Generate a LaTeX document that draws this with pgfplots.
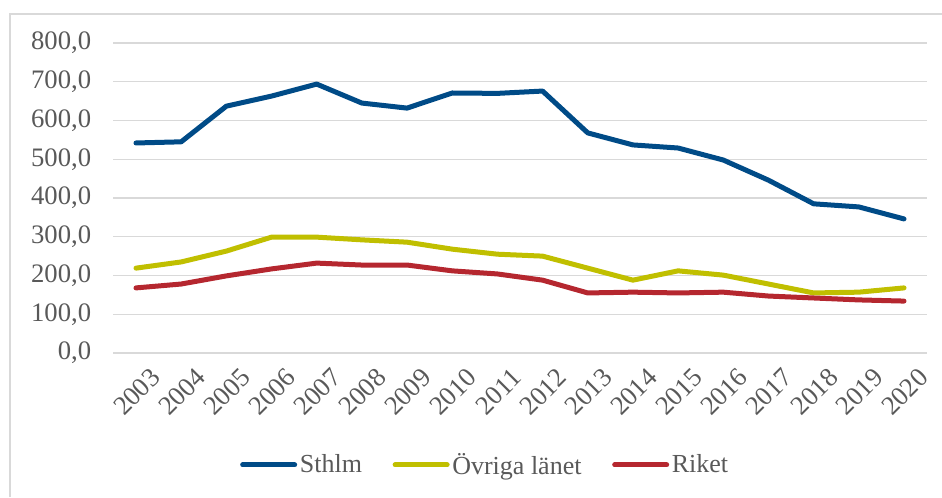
\documentclass[border=0pt]{standalone}
\usepackage{fontspec}
\setmainfont{Liberation Serif}
\usepackage{pgfplots}
\pgfplotsset{compat=1.18}
\definecolor{cblue}{RGB}{0,75,135}
\definecolor{cyel}{RGB}{192,191,0}
\definecolor{cred}{RGB}{181,39,47}
\definecolor{cgrid}{RGB}{217,217,217}
\definecolor{ctext}{RGB}{89,89,89}
\begin{document}
\begin{tikzpicture}
\path[use as bounding box] (0pt,0pt) rectangle (706.5pt,372.75pt);
\draw[cgrid, line width=1.2pt] (7.5pt,0pt) -- (7.5pt,362.25pt) -- (706.5pt,362.25pt);
\begin{axis}[
  at={(85.05pt,108pt)}, anchor=south west,
  scale only axis, width=609.9pt, height=232.5pt,
  xmin=-0.5, xmax=17.5, ymin=0, ymax=800,
  xtick={0,...,17},
  xticklabels={2003,2004,2005,2006,2007,2008,2009,2010,2011,2012,2013,2014,2015,2016,2017,2018,2019,2020},
  ytick={0,100,...,800},
  axis line style={draw=none},
  major tick length=0pt,
  ymajorgrids, xmajorgrids=false,
  grid style={cgrid, line width=1.1pt},
  /pgf/number format/assume math mode=true,
  yticklabel={\pgfmathprintnumber[fixed,fixed zerofill,precision=1,use comma,1000 sep={}]{\tick}},
  tick label style={font=\fontsize{20}{23}\selectfont, text=ctext},
  yticklabel style={anchor=east, inner sep=0pt, xshift=-16.5pt},
  xticklabel style={rotate=45, anchor=east, inner sep=0pt, xshift=0pt, yshift=-21pt},
  legend columns=3,
  legend style={draw=none, fill=none, at={(0.4576,-0.361)}, anchor=center,
    font=\fontsize{19.5}{23}\selectfont, text=ctext,
    /tikz/every even column/.append style={column sep=21pt}},
  legend cell align=left,
  legend image code/.code={\draw[#1, line width=3.75pt, line cap=round] (0pt,0pt) -- (39pt,0pt);},
  every axis plot/.append style={line width=3.75pt, line join=round, line cap=round, mark=none},
]
\addplot[cblue] coordinates {(0,542)(1,545)(2,637)(3,663)(4,694)(5,645)(6,632)(7,671)(8,670)(9,676)(10,568)(11,537)(12,529)(13,498)(14,446)(15,385)(16,377)(17,346)};
\addlegendentry{Sthlm}
\addplot[cyel] coordinates {(0,219)(1,235)(2,263)(3,299)(4,299)(5,292)(6,286)(7,268)(8,255)(9,250)(10,219)(11,188)(12,212)(13,201)(14,178)(15,155)(16,157)(17,168)};
\addlegendentry{Övriga länet}
\addplot[cred] coordinates {(0,168)(1,178)(2,199)(3,217)(4,232)(5,227)(6,227)(7,212)(8,204)(9,188)(10,155)(11,157)(12,155)(13,157)(14,147)(15,142)(16,137)(17,134)};
\addlegendentry{Riket}
\end{axis}
\end{tikzpicture}
\end{document}
